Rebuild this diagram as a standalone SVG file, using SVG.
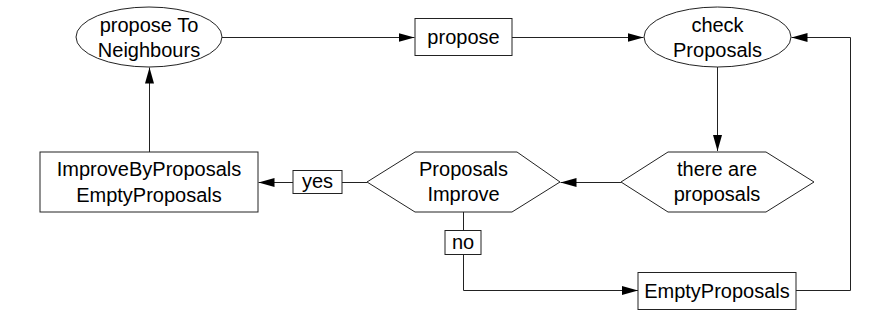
<svg xmlns="http://www.w3.org/2000/svg" width="882" height="331" viewBox="0 0 882 331">
<defs>
<style>
.shape{fill:#fff;stroke:#222;stroke-width:1}
.edge{fill:none;stroke:#222;stroke-width:1}
text{font-family:"Liberation Sans",Arial,sans-serif;font-size:20px;fill:#000;text-anchor:middle}
</style>
<marker id="arr" markerUnits="userSpaceOnUse" markerWidth="17" markerHeight="10" refX="16" refY="4.5" orient="auto">
<path d="M0,0 L16,4.5 L0,9 z" fill="#000"/>
</marker>
</defs>
<rect width="882" height="331" fill="#fff"/>
<g id="edges">
<path class="edge" d="M222,37.5 H414.5" marker-end="url(#arr)"/>
<path class="edge" d="M512,37.5 H643.5" marker-end="url(#arr)"/>
<path class="edge" d="M717.5,67 V151" marker-end="url(#arr)"/>
<path class="edge" d="M621,182.5 H560.5" marker-end="url(#arr)"/>
<path class="edge" d="M367,182.5 H342"/>
<path class="edge" d="M293,182.5 H258.5" marker-end="url(#arr)"/>
<path class="edge" d="M149.5,152 V67.5" marker-end="url(#arr)"/>
<path class="edge" d="M463.5,212 V230"/>
<path class="edge" d="M463.5,254 V290.5 H638" marker-end="url(#arr)"/>
<path class="edge" d="M796,290.5 H850.5 V37.5 H791.5" marker-end="url(#arr)"/>
</g>
<g id="proposeToNeighbours">
<ellipse class="shape" cx="149" cy="37" rx="73" ry="30"/>
<text x="149" y="31.5">propose To</text>
<text x="149" y="56.5">Neighbours</text>
</g>
<g id="propose">
<rect class="shape" x="415" y="18.5" width="97" height="37"/>
<text x="463.5" y="43.5">propose</text>
</g>
<g id="checkProposals">
<ellipse class="shape" cx="717.5" cy="37" rx="73.5" ry="30"/>
<text x="717.5" y="31.5">check</text>
<text x="717.5" y="56.5">Proposals</text>
</g>
<g id="thereAreProposals">
<polygon class="shape" points="621,182 668,152 766,152 814,182 766,212 668,212"/>
<text x="717" y="175.5">there are</text>
<text x="717" y="200.5">proposals</text>
</g>
<g id="proposalsImprove">
<polygon class="shape" points="367,182 415,152 517,152 560,182 512,212 415,212"/>
<text x="463.5" y="175.5">Proposals</text>
<text x="463.5" y="200.5">Improve</text>
</g>
<g id="yesLabel">
<rect class="shape" x="293" y="170.5" width="49" height="23"/>
<text x="317.5" y="188">yes</text>
</g>
<g id="improveByProposals">
<rect class="shape" x="40" y="152" width="218" height="60"/>
<text x="149" y="176">ImproveByProposals</text>
<text x="149" y="201.5">EmptyProposals</text>
</g>
<g id="noLabel">
<rect class="shape" x="445" y="230.5" width="36" height="24"/>
<text x="463" y="249">no</text>
</g>
<g id="emptyProposals">
<rect class="shape" x="638" y="272.5" width="158" height="37"/>
<text x="717" y="297.5">EmptyProposals</text>
</g>
</svg>
